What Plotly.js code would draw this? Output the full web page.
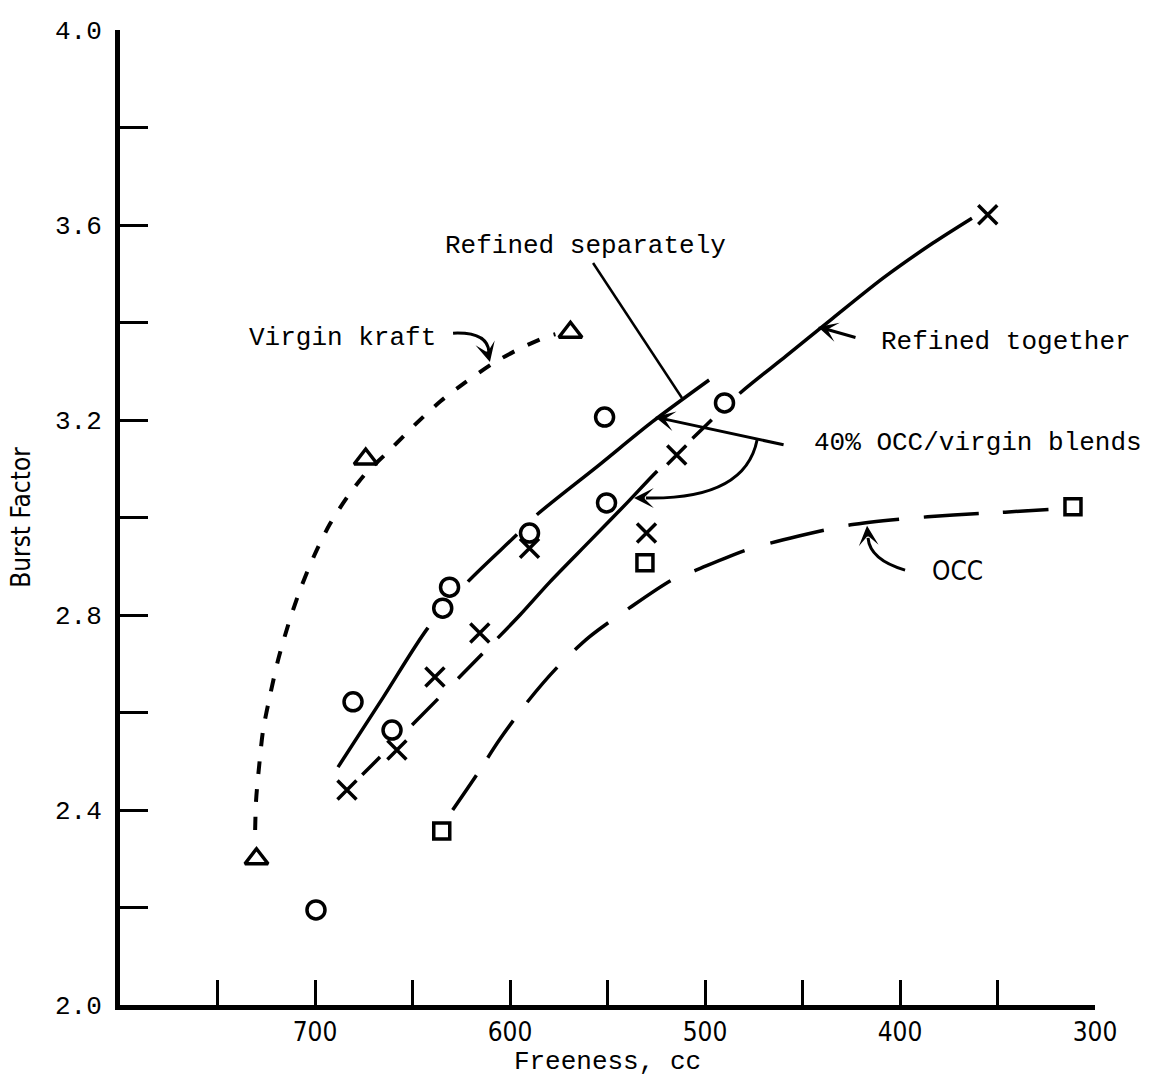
<!DOCTYPE html>
<html>
<head>
<meta charset="utf-8">
<script src="https://cdn.plot.ly/plotly-3.0.1.min.js"></script>
<style>
html,body{margin:0;padding:0;background:#fff;}
#chart{width:1168px;height:1077px;}
</style>
</head>
<body>
<div id="chart"></div>
<script>
// ---- measured points (Freeness cc, Burst Factor) ----
const virginFreeness = [730, 674, 569];
const virginBurst    = [2.30, 3.12, 3.38];

const sepFreeness = [699.5, 680.5, 660.5, 634.5, 631, 590, 551.5, 550.5, 490];
const sepBurst    = [2.195, 2.622, 2.564, 2.814, 2.857, 2.968, 3.206, 3.030, 3.235];

const togFreeness = [683.6, 658, 638.5, 615.5, 590, 530, 514.5, 355];
const togBurst    = [2.441, 2.523, 2.673, 2.763, 2.937, 2.968, 3.128, 3.621];

const occFreeness = [635, 530.8, 311.3];
const occBurst    = [2.357, 2.907, 3.022];

// ---- hand-drawn trend curves ----
const virginCurveX = [730.7, 730.2, 728.6, 726.6, 723, 718.9, 713.8, 707.7, 700.5, 692.3, 683.1, 673.9, 662.7, 648.3, 635.5, 623.3, 608.4, 596.2, 581.8, 576.7];
const virginCurveY = [2.359, 2.421, 2.492, 2.564, 2.636, 2.708, 2.779, 2.851, 2.921, 2.987, 3.044, 3.091, 3.134, 3.192, 3.239, 3.276, 3.317, 3.344, 3.370, 3.376];

const sepCurveX = [688.2, 665.2, 642.2, 621.7, 596.7, 586.4, 554.2, 527.1, 497.9];
const sepCurveY = [2.488, 2.630, 2.773, 2.868, 2.964, 3.005, 3.108, 3.196, 3.282];

const togCurveX = [683.6, 650.3, 613.8, 594.9, 579.5, 559.0, 540.0, 524.6, 506.2, 482.1, 458.5, 434.4, 408.7, 383.1, 363.1];
const togCurveY = [2.441, 2.574, 2.722, 2.800, 2.868, 2.952, 3.030, 3.095, 3.163, 3.255, 3.331, 3.409, 3.491, 3.563, 3.614];

const occCurveX = [629.4, 617.1, 605.4, 591, 575.7, 559.3, 538.9, 516.9, 504.6, 479, 451.9, 425.3, 399.2, 372.6, 346, 322.5];
const occCurveY = [2.400, 2.472, 2.544, 2.622, 2.693, 2.755, 2.814, 2.872, 2.892, 2.933, 2.962, 2.985, 2.997, 3.005, 3.011, 3.017];

// ---- ticks ----
const xTickVals = [750, 700, 650, 600, 550, 500, 450, 400, 350, 300];
const xTickText = ['', '700', '', '600', '', '500', '', '400', '', '300'];
const yTickVals = [2.0, 2.2, 2.4, 2.6, 2.8, 3.0, 3.2, 3.4, 3.6, 3.8, 4.0];
const yTickText = ['2.0', '', '2.4', '', '2.8', '', '3.2', '', '3.6', '', '4.0'];

// ---- labels ----
const labelVirgin = 'Virgin kraft';
const labelSep = 'Refined separately';
const labelTog = 'Refined together';
const labelBlend = '40% OCC/virgin blends';
const labelOcc = 'OCC';

const TYPE = 'Liberation Mono, Courier New, monospace';
const NARROW = 'Liberation Sans Narrow, DejaVu Sans Condensed, Liberation Serif, serif';
const BLACK = '#000';

const traces = [
  {x: virginCurveX, y: virginCurveY, mode: 'lines', line: {color: BLACK, width: 4, dash: '13px,15px', shape: 'spline', smoothing: 0.8}, hoverinfo: 'skip'},
  {x: sepCurveX, y: sepCurveY, mode: 'lines', line: {color: BLACK, width: 3.5, dash: '166px,61px,68px,28px,3000px', shape: 'spline', smoothing: 0.8}, hoverinfo: 'skip'},
  {x: togCurveX, y: togCurveY, mode: 'lines', line: {color: BLACK, width: 3.5, dash: '0px,21px,25px,46px,37px,28px,35px,22px,231px,48px,27px,38px,3000px', shape: 'spline', smoothing: 0.8}, hoverinfo: 'skip'},
  {x: occCurveX, y: occCurveY, mode: 'lines', line: {color: BLACK, width: 3.5, dash: '42px,21px,45px,23px,46px,25px,43px,24px,51px,26px,54px,27px,55px,25px,51px,25px,55px,24px,46px,200px', shape: 'spline', smoothing: 0.8}, hoverinfo: 'skip'},
  {x: virginFreeness, y: virginBurst, mode: 'markers', name: labelVirgin, marker: {symbol: 'triangle-up-open', size: 20, color: BLACK, line: {color: BLACK, width: 3.5}}},
  {x: togFreeness, y: togBurst, mode: 'markers', name: labelTog, marker: {symbol: 'x-thin-open', size: 19, color: BLACK, line: {color: BLACK, width: 3.5}}},
  {x: sepFreeness, y: sepBurst, mode: 'markers', name: labelSep, marker: {symbol: 'circle-open', size: 18, color: BLACK, line: {color: BLACK, width: 3.5}}},
  {x: occFreeness, y: occBurst, mode: 'markers', name: labelOcc, marker: {symbol: 'square-open', size: 16, color: BLACK, line: {color: BLACK, width: 3.5}}}
];

const TXTFONT = {family: TYPE, size: 26, color: BLACK};

function txt(x, y, text, font) {
  return {x: x, y: y, xref: 'x', yref: 'y', text: text, showarrow: false, xanchor: 'left', yanchor: 'middle', font: font};
}
function head(x, y, ax, ay) {
  return {x: x, y: y, xref: 'x', yref: 'y', text: '', showarrow: true, arrowhead: 3, arrowsize: 1.1, arrowwidth: 3, arrowcolor: BLACK, ax: ax, ay: ay, axref: 'pixel', ayref: 'pixel'};
}

const annotations = [
  txt(734.9, 3.368, labelVirgin, TXTFONT),
  txt(634.4, 3.557, labelSep, TXTFONT),
  txt(410.8, 3.360, labelTog, TXTFONT),
  txt(445.1, 3.153, labelBlend, TXTFONT),
  txt(384.6, 2.890, labelOcc, {family: NARROW, size: 26, color: BLACK}),
  head(610.3, 3.319, -3, -12),
  head(442.05, 3.391, 39, 11),
  head(525.6, 3.206, 130, 28),
  head(536.4, 3.040, 12, 0),
  head(416.9, 2.983, 1, 12)
];

const shapes = [
  {type: 'path', xref: 'x', yref: 'y', path: 'M629.2,3.378 Q611.3,3.381 610.8,3.339', line: {color: BLACK, width: 3}},
  {type: 'line', xref: 'x', yref: 'y', x0: 557.4, y0: 3.522, x1: 511.8, y1: 3.245, line: {color: BLACK, width: 2.5}},
  {type: 'path', xref: 'x', yref: 'y', path: 'M473.3,3.159 Q479.5,3.036 530.3,3.040', line: {color: BLACK, width: 3}},
  {type: 'path', xref: 'x', yref: 'y', path: 'M397.4,2.892 Q415.4,2.913 416.4,2.958', line: {color: BLACK, width: 3}}
];

const layout = {
  width: 1168, height: 1077,
  margin: {l: 120, r: 73, t: 30, b: 72},
  paper_bgcolor: '#fff', plot_bgcolor: '#fff',
  showlegend: false,
  font: {family: TYPE, color: BLACK, size: 24},
  xaxis: {
    range: [800, 300], tickmode: 'array', tickvals: xTickVals, ticktext: xTickText,
    ticks: 'inside', ticklen: 25, tickwidth: 3, tickcolor: BLACK,
    showline: true, linewidth: 5, linecolor: BLACK, showgrid: false, zeroline: false,
    tickfont: {family: NARROW, size: 26, color: BLACK},
    title: {text: 'Freeness, cc', font: {family: TYPE, size: 26, color: BLACK}, standoff: 0}
  },
  yaxis: {
    range: [2.0, 4.0], tickmode: 'array', tickvals: yTickVals, ticktext: yTickText,
    ticks: 'inside', ticklen: 28, tickwidth: 3, tickcolor: BLACK,
    showline: true, linewidth: 5, linecolor: BLACK, showgrid: false, zeroline: false,
    tickfont: {family: TYPE, size: 26, color: BLACK},
    ticklabelstandoff: 8,
    title: {text: 'Burst Factor', font: {family: NARROW, size: 26, color: BLACK}, standoff: 18}
  },
  annotations: annotations,
  shapes: shapes
};

Plotly.newPlot('chart', traces, layout, {displayModeBar: false, staticPlot: true});
</script>
</body>
</html>
